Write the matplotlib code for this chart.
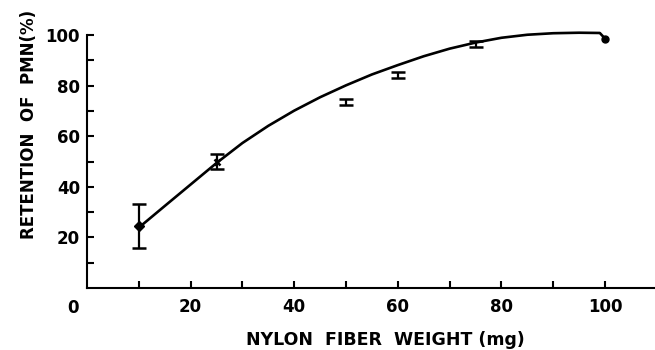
import matplotlib
matplotlib.use("Agg")
import matplotlib.pyplot as plt

# measured points (mean and error)
fiber_mg = [10, 25, 50, 60, 75, 100]
retention = [24.5, 50.0, 73.4, 84.2, 96.6, 98.5]
retention_err = [8.7, 3.0, 1.2, 1.2, 1.2, 0.0]

# hand-drawn fitted curve
curve_x = [10.2, 15, 20, 25, 30, 35, 40, 45, 50, 55, 60, 65, 70, 75, 80, 85,
           90, 95, 99, 100]
curve_y = [24.2, 32.4, 40.9, 49.4, 57.3, 64.1, 70.1, 75.4, 80.1, 84.4, 88.1,
           91.6, 94.6, 97.0, 98.9, 100.1, 100.7, 100.9, 100.8, 98.6]

x_ticks = [20, 40, 60, 80, 100]
y_ticks = [20, 40, 60, 80, 100]

plt.rcParams['font.family'] = ['DejaVu Sans']
plt.rcParams['font.weight'] = 'bold'

fig = plt.figure(figsize=(6.55, 3.5), dpi=100)
ax = fig.add_axes([87 / 655, 62 / 350, 568 / 655, 253 / 350])

ax.plot(curve_x, curve_y, color='black', lw=1.9, clip_on=False, zorder=3,
        solid_joinstyle='round')

ax.errorbar(fiber_mg[:5], retention[:5], yerr=retention_err[:5], fmt='none',
            ecolor='black', elinewidth=1.6, capsize=4.8, capthick=1.8,
            clip_on=False, zorder=4)
ax.plot(fiber_mg[0], retention[0], marker='D', ms=5.5, color='black',
        ls='none', clip_on=False, zorder=5)
ax.plot(fiber_mg[1], retention[1], marker='x', ms=5, mew=1.8, color='black',
        ls='none', clip_on=False, zorder=5)
ax.plot(fiber_mg[5], retention[5], marker='o', ms=5, color='black',
        ls='none', clip_on=False, zorder=5)

ax.set_xlim(0, 568 / 5.18)
ax.set_ylim(0, 100)

for side in ['top', 'right']:
    ax.spines[side].set_visible(False)
for side in ['left', 'bottom']:
    ax.spines[side].set_linewidth(1.5)

ax.set_xticks(x_ticks)
ax.set_xticks(range(10, 101, 10), minor=True)
ax.set_yticks(y_ticks)
ax.set_yticks(range(10, 101, 10), minor=True)
ax.tick_params(axis='both', which='both', direction='in', length=5, width=1.5)
ax.tick_params(axis='x', which='major', labelsize=12, pad=7.5)
ax.tick_params(axis='y', which='major', labelsize=12, pad=5)
for lab in ax.get_xticklabels() + ax.get_yticklabels():
    lab.set_fontweight('bold')

ax.text(-2.7, -0.045, '0', transform=ax.get_xaxis_transform(), ha='center',
        va='top', fontsize=12, fontweight='bold')

fig.text(385 / 655, 1 - 340 / 350, 'NYLON  FIBER  WEIGHT (mg)', ha='center',
         va='center', fontsize=12.5, fontweight='bold')
fig.text(29 / 655, 1 - 124 / 350, 'RETENTION  OF  PMN(%)', ha='center',
         va='center', rotation=90, fontsize=12, fontweight='bold')

fig.savefig('out.png', dpi=100)
